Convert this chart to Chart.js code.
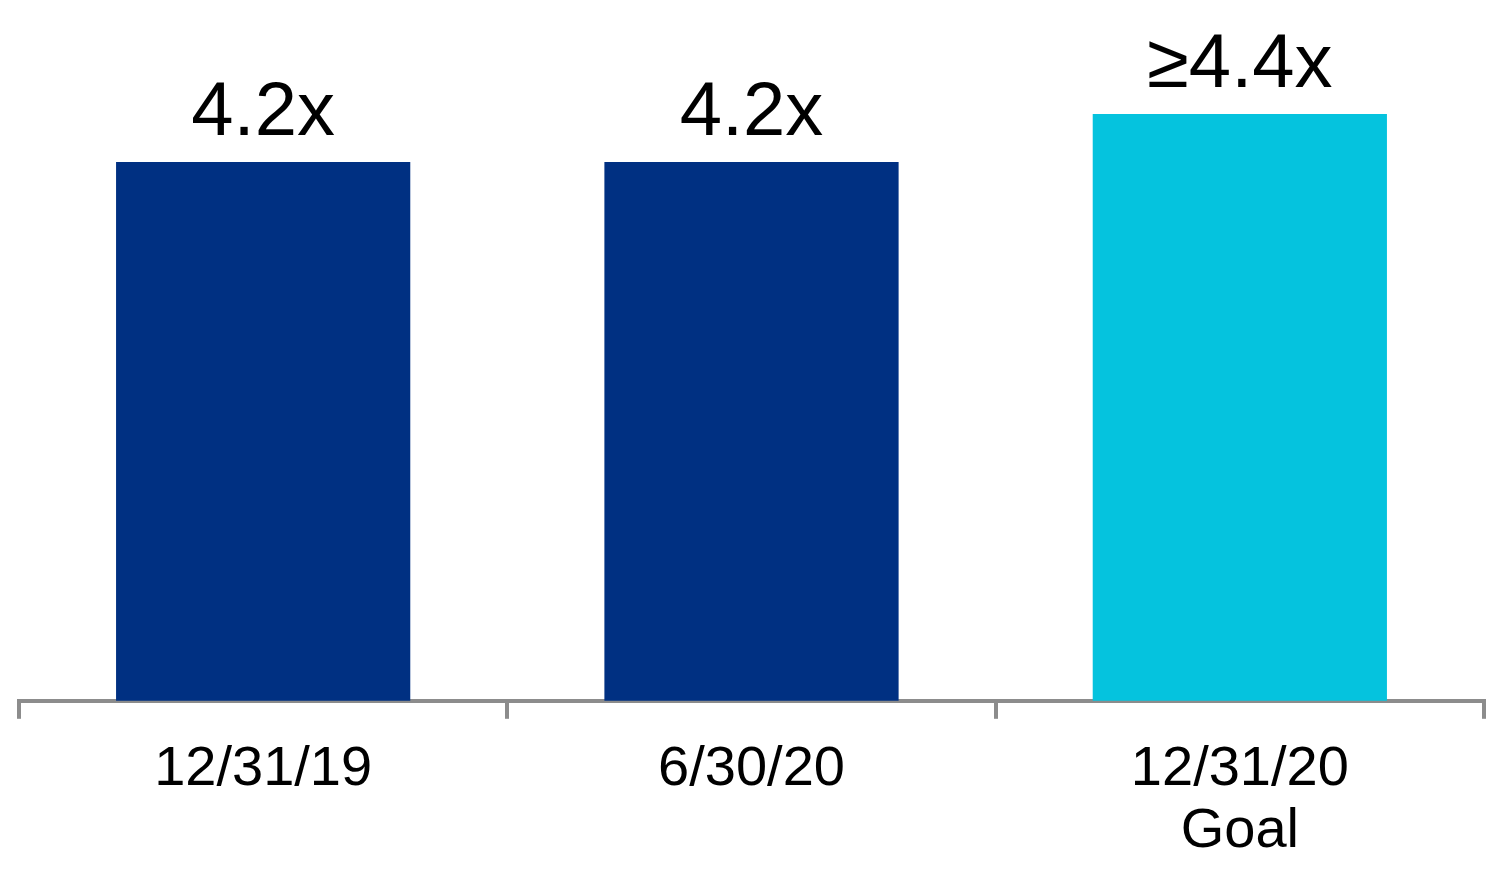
<!DOCTYPE html>
<html>
<head>
<meta charset="utf-8">
<script src="https://cdn.jsdelivr.net/npm/chart.js@4/dist/chart.umd.min.js"></script>
<style>
html,body{margin:0;padding:0;background:#fff;}
#wrap{width:1500px;height:869px;position:relative;}
</style>
</head>
<body>
<div id="wrap"><canvas id="c"></canvas></div>
<script>
const categories = [['12/31/19'], ['6/30/20'], ['12/31/20', 'Goal']];
const values = [4.2, 4.2, 4.4];
const valueLabels = ['4.2x', '4.2x', '\u22654.4x'];
const barColors = ['#003082', '#003082', '#05C3DE'];

const valueLabelPlugin = {
  id: 'valueLabels',
  afterDatasetsDraw(chart) {
    const ctx = chart.ctx;
    const meta = chart.getDatasetMeta(0);
    ctx.save();
    ctx.fillStyle = '#000';
    ctx.font = '76px "Liberation Sans", Arial, sans-serif';
    ctx.textAlign = 'center';
    ctx.textBaseline = 'alphabetic';
    meta.data.forEach((bar, i) => {
      ctx.fillText(valueLabels[i], bar.x, bar.y - 27);
    });
    ctx.restore();
  }
};

new Chart(document.getElementById('c'), {
  type: 'bar',
  data: {
    labels: categories,
    datasets: [{
      data: values,
      backgroundColor: barColors,
      borderWidth: 0,
      categoryPercentage: 1,
      barPercentage: 0.6025
    }]
  },
  options: {
    responsive: true,
    maintainAspectRatio: false,
    animation: false,
    layout: { padding: { left: 19, right: 16, top: 0, bottom: -13 } },
    plugins: { legend: { display: false }, tooltip: { enabled: false } },
    scales: {
      y: { display: false, min: 1.954, max: 4.875 },
      x: {
        border: { display: true, color: '#8c8c8c', width: 4 },
        grid: { display: true, drawOnChartArea: false, drawTicks: true, tickLength: 18, lineWidth: 4, color: '#8c8c8c', offset: true },
        ticks: {
          color: '#000',
          font: { family: '"Liberation Sans", Arial, sans-serif', size: 56, lineHeight: 1.1 },
          padding: 20,
          maxRotation: 0,
          autoSkip: false
        }
      }
    }
  },
  plugins: [valueLabelPlugin]
});
</script>
</body>
</html>
